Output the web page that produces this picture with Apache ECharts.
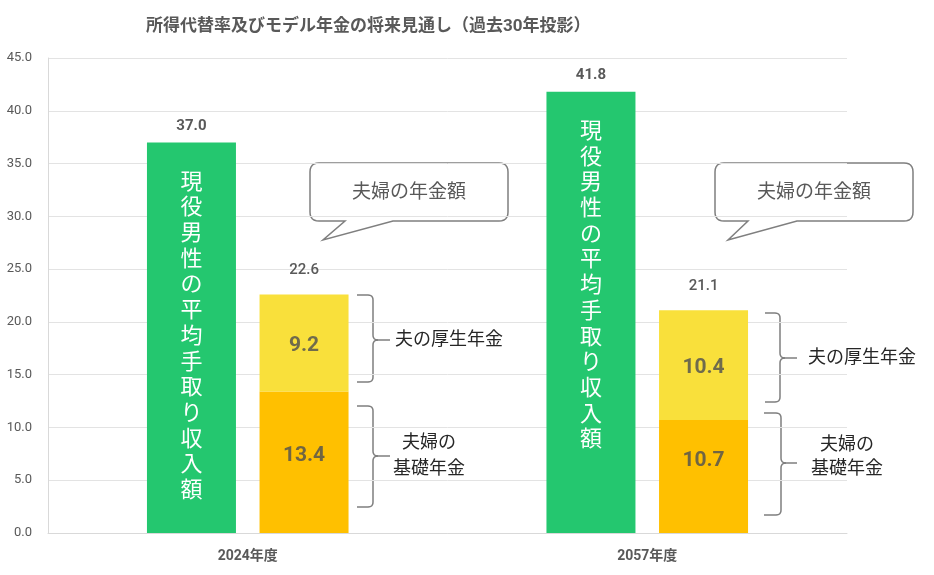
<!DOCTYPE html>
<html>
<head>
<meta charset="utf-8">
<script src="https://cdn.jsdelivr.net/npm/echarts@6/dist/echarts.min.js"></script>
<style>
html,body{margin:0;padding:0;background:#fff;}
#chart{width:934px;height:575px;}
</style>
</head>
<body>
<div id="chart"></div>
<script>
// ---- data ----
const categories = ['2024年度', '2057年度'];
const takeHomeIncome = [37.0, 41.8];      // 現役男性の平均手取り収入額
const basicPension = [13.4, 10.7];        // 夫婦の基礎年金
const employeePension = [9.2, 10.4];      // 夫の厚生年金
const coupleTotal = [22.6, 21.1];         // 夫婦の年金額
const yMin = 0, yMax = 45, yInterval = 5;
const titleText = '所得代替率及びモデル年金の将来見通し（過去30年投影）';
const takeHomeText = '現役男性の平均手取り収入額';
const bubbleText = '夫婦の年金額';
const employeeText = '夫の厚生年金';
const basicText = '夫婦の\n基礎年金';

const FONT = 'Roboto, "Noto Sans CJK JP", sans-serif';
const GRAY = '#595959';

const chart = echarts.init(document.getElementById('chart'), null, {renderer: 'canvas'});

// quadratic curve sampler
function quad(p0, c, p1, n) {
  const pts = [];
  for (let k = 1; k <= n; k++) {
    const t = k / n;
    pts.push([
      (1 - t) * (1 - t) * p0[0] + 2 * (1 - t) * t * c[0] + t * t * p1[0],
      (1 - t) * (1 - t) * p0[1] + 2 * (1 - t) * t * c[1] + t * t * p1[1]
    ]);
  }
  return pts;
}
function braceHalves(x0, x1, x2, yT, yM, yB) {
  const r = 5;
  const top = [[x0, yT], [x1 - r, yT]]
    .concat(quad([x1 - r, yT], [x1, yT], [x1, yT + r], 6))
    .concat([[x1, yM - r]])
    .concat(quad([x1, yM - r], [x1, yM], [x1 + r, yM], 6))
    .concat([[x2, yM]]);
  const bot = [[x1 + r, yM]]
    .concat(quad([x1 + r, yM], [x1, yM], [x1, yM + r], 6))
    .concat([[x1, yB - r]])
    .concat(quad([x1, yB - r], [x1, yB], [x1 - r, yB], 6))
    .concat([[x0, yB]]);
  return [top, bot];
}
function bubblePoints(x1, x2, y1, y2, t1, t2, px, py) {
  const r = 9;
  let pts = [[x1 + r, y1], [x2 - r, y1]];
  pts = pts.concat(quad([x2 - r, y1], [x2, y1], [x2, y1 + r], 6));
  pts.push([x2, y2 - r]);
  pts = pts.concat(quad([x2, y2 - r], [x2, y2], [x2 - r, y2], 6));
  pts.push([t2, y2], [px, py], [t1, y2], [x1 + r, y2]);
  pts = pts.concat(quad([x1 + r, y2], [x1, y2], [x1, y2 - r], 6));
  pts.push([x1, y1 + r]);
  pts = pts.concat(quad([x1, y1 + r], [x1, y1], [x1 + r, y1], 6));
  return pts;
}

const lineStyle = {stroke: '#7f7f7f', lineWidth: 1.5, fill: null};
const annoText = {fontSize: 18, fill: '#262626', fontFamily: FONT};

function brace(x0, x1, x2, yT, yM, yB) {
  const h = braceHalves(x0, x1, x2, yT, yM, yB);
  return [
    {type: 'polyline', shape: {points: h[0]}, style: lineStyle, silent: true},
    {type: 'polyline', shape: {points: h[1]}, style: lineStyle, silent: true}
  ];
}

const graphics = [].concat(
  // 2024 bubble
  [{type: 'polygon', shape: {points: bubblePoints(310, 508, 163, 221, 345, 393, 323, 240)}, style: lineStyle, silent: true},
   {type: 'text', x: 409, y: 193, style: {text: bubbleText, fontSize: 19, fill: GRAY, fontFamily: FONT, align: 'center', verticalAlign: 'middle'}, silent: true},
  // 2057 bubble
   {type: 'polygon', shape: {points: bubblePoints(715, 913, 163, 221, 748, 797, 728, 240)}, style: lineStyle, silent: true},
   {type: 'text', x: 814, y: 193, style: {text: bubbleText, fontSize: 19, fill: GRAY, fontFamily: FONT, align: 'center', verticalAlign: 'middle'}, silent: true}],
  // 2024 braces
  brace(357, 373, 390, 295, 340, 382),
  [{type: 'text', x: 395, y: 340, style: Object.assign({text: employeeText, align: 'left', verticalAlign: 'middle'}, annoText), silent: true}],
  brace(357, 373, 390, 406, 456, 507),
  [{type: 'text', x: 429, y: 456, style: Object.assign({text: basicText, align: 'center', verticalAlign: 'middle', lineHeight: 26}, annoText), silent: true}],
  // 2057 braces
  brace(765, 780, 797, 313, 358, 402),
  [{type: 'text', x: 808, y: 358, style: Object.assign({text: employeeText, align: 'left', verticalAlign: 'middle'}, annoText), silent: true}],
  brace(764, 781, 797, 413, 463, 515),
  [{type: 'text', x: 847, y: 457, style: Object.assign({text: basicText, align: 'center', verticalAlign: 'middle', lineHeight: 24}, annoText), silent: true}]
);

const basicOffsets = [[0, -7], [0, -16]];

const option = {
  animation: false,
  backgroundColor: '#ffffff',
  title: {
    text: titleText, left: 141, top: 13,
    textStyle: {fontSize: 17, fontWeight: 'bold', color: GRAY, fontFamily: FONT}
  },
  grid: {left: 48, right: 87, top: 58, bottom: 42, containLabel: false},
  xAxis: {
    type: 'category', data: categories,
    axisLine: {show: true, lineStyle: {color: '#d9d9d9', width: 1}},
    axisTick: {show: false},
    axisLabel: {fontSize: 14, fontWeight: 'bold', color: GRAY, margin: 16, fontFamily: FONT}
  },
  yAxis: {
    type: 'value', min: yMin, max: yMax, interval: yInterval,
    axisLine: {show: true, lineStyle: {color: '#d9d9d9', width: 1}},
    axisTick: {show: false},
    splitLine: {show: true, lineStyle: {color: '#e3e3e3', width: 1}},
    axisLabel: {fontSize: 13, color: GRAY, margin: 16, fontFamily: FONT, formatter: v => v.toFixed(1)}
  },
  series: [
    {
      name: '現役男性の平均手取り収入額', type: 'bar', stack: 'income',
      barWidth: 89, barGap: '26.5%',
      data: takeHomeIncome,
      itemStyle: {color: '#24C76F'},
      label: {
        show: true, position: 'insideTop', distance: 25,
        formatter: () => takeHomeText.split('').join('\n'),
        color: '#ffffff', fontSize: 22, lineHeight: 25.7, fontFamily: '"Noto Sans CJK JP", sans-serif'
      },
      markPoint: {
        silent: true, symbol: 'circle', symbolSize: 0,
        itemStyle: {color: 'rgba(0,0,0,0)'},
        label: {show: true, position: 'top', distance: 9, fontSize: 15, fontWeight: 'bold', color: GRAY, fontFamily: FONT,
          formatter: p => Number(p.value).toFixed(1)},
        data: categories.map((c, i) => ({coord: [c, takeHomeIncome[i]], value: takeHomeIncome[i]}))
      }
    },
    {
      name: '夫婦の基礎年金', type: 'bar', stack: 'pension',
      barWidth: 89,
      data: basicPension.map((v, i) => ({value: v, label: {offset: basicOffsets[i]}})),
      itemStyle: {color: '#FFC000'},
      label: {show: true, position: 'inside', fontSize: 21, fontWeight: 'bold', color: 'rgba(80,80,80,0.82)', fontFamily: FONT,
        formatter: p => Number(p.value).toFixed(1)}
    },
    {
      name: '夫の厚生年金', type: 'bar', stack: 'pension',
      barWidth: 89,
      data: employeePension,
      itemStyle: {color: '#F9E03B'},
      label: {show: true, position: 'inside', fontSize: 21, fontWeight: 'bold', color: 'rgba(80,80,80,0.82)', fontFamily: FONT,
        formatter: p => Number(p.value).toFixed(1), offset: [0, 3]},
      markPoint: {
        silent: true, symbol: 'circle', symbolSize: 0,
        itemStyle: {color: 'rgba(0,0,0,0)'},
        label: {show: true, position: 'top', distance: 17, fontSize: 15, fontWeight: 500, color: GRAY, fontFamily: FONT,
          formatter: p => Number(p.value).toFixed(1)},
        data: categories.map((c, i) => ({coord: [c, coupleTotal[i]], value: coupleTotal[i]}))
      }
    }
  ],
  graphic: graphics
};

chart.setOption(option);
</script>
</body>
</html>
